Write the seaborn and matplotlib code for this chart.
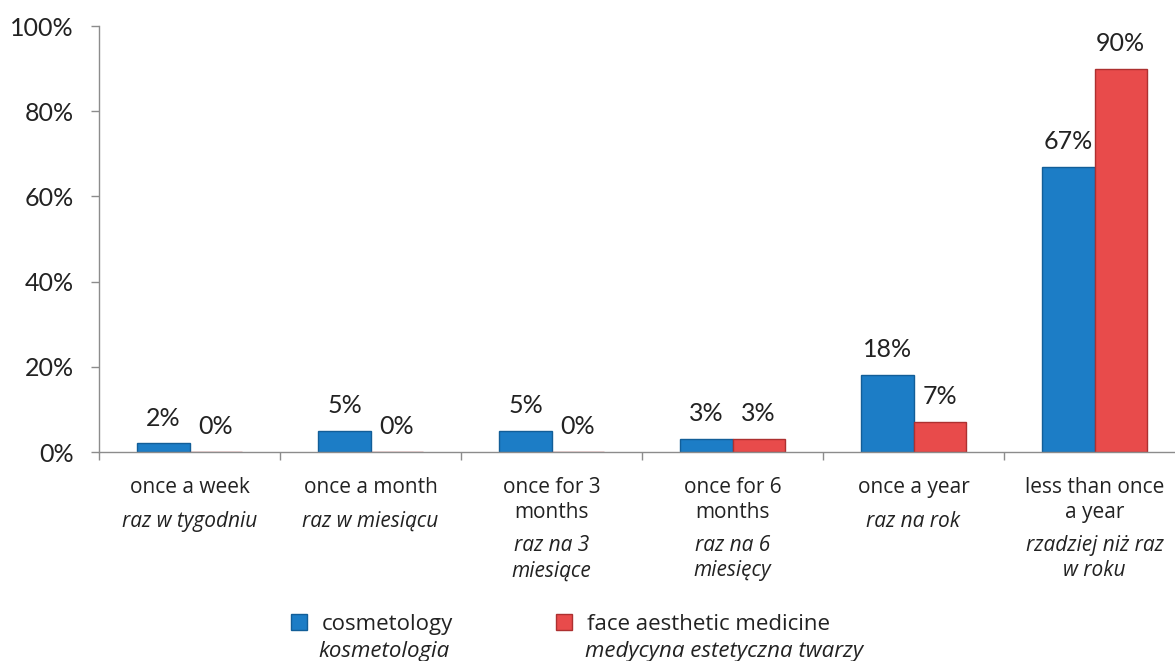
import matplotlib
matplotlib.use("Agg")
import matplotlib.pyplot as plt
import seaborn as sns
import pandas as pd
from matplotlib.patches import Patch

categories_en = ["once a week", "once a month", "once for 3\nmonths", "once for 6\nmonths",
                 "once a year", "less than once\na year"]
categories_pl = ["raz w tygodniu", "raz w miesiącu", "raz na 3\nmiesiące", "raz na 6\nmiesięcy",
                 "raz na rok", "rzadziej niż raz\nw roku"]
series_en = ["cosmetology", "face aesthetic medicine"]
series_pl = ["kosmetologia", "medycyna estetyczna twarzy"]
cosmetology = [2, 5, 5, 3, 18, 67]
face_medicine = [0, 0, 0, 3, 7, 90]
yticks = [0, 20, 40, 60, 80, 100]

colors = ["#1c7dc6", "#e84b4b"]
edges = ["#125e98", "#ad3030"]

sns.set_theme(style="white")
plt.rcParams["font.family"] = ["Lato", "DejaVu Sans"]
label_font = ["Open Sans", "DejaVu Sans"]

df = pd.DataFrame({
    "cat": list(range(len(categories_en))) * 2,
    "series": [series_en[0]] * len(cosmetology) + [series_en[1]] * len(face_medicine),
    "value": cosmetology + face_medicine,
})

fig = plt.figure(figsize=(11.75, 6.61), dpi=100)
ax = fig.add_axes([99 / 1175, 1 - 452 / 661, 1086 / 1175, 426 / 661])

sns.barplot(data=df, x="cat", y="value", hue="series", hue_order=series_en,
            palette=colors, width=0.575, saturation=1, ax=ax, legend=False,
            native_scale=True)

for cont, ec in zip(ax.containers, edges):
    for p in cont:
        p.set_edgecolor(ec)
        p.set_linewidth(1.0)
    ax.bar_label(cont, fmt="%d%%", padding=10, fontsize=18, color="#222222")

ax.set_xlim(-0.5, len(categories_en) - 0.5)
ax.set_ylim(0, 100)
ax.set_yticks(yticks)
ax.set_yticklabels([f"{v}%" for v in yticks], fontsize=18, color="#222222")
ax.set_xticks([i - 0.5 for i in range(len(categories_en) + 1)])
ax.set_xticklabels([])
ax.set_xlabel("")
ax.set_ylabel("")
ax.tick_params(axis="y", left=True, length=6, width=1, color="#8c8c8c", pad=12)
ax.tick_params(axis="x", bottom=True, length=6, width=1, color="#8c8c8c")
sns.despine(ax=ax, top=True, right=True)
for s in ["left", "bottom"]:
    ax.spines[s].set_color("#8c8c8c")
    ax.spines[s].set_linewidth(1)

for i, (en, pl) in enumerate(zip(categories_en, categories_pl)):
    nlines = en.count("\n") + 1
    ax.annotate(en, xy=(i, 0), xycoords=("data", "axes fraction"),
                xytext=(0, -25), textcoords="offset pixels", family=label_font,
                ha="center", va="top", fontsize=15, color="#222222", linespacing=1.28)
    ax.annotate(pl, xy=(i, 0), xycoords=("data", "axes fraction"),
                xytext=(0, -26 - 33 - (nlines - 1) * 24), textcoords="offset pixels",
                family=label_font, ha="center", va="top", fontsize=15, color="#222222",
                style="italic", linespacing=1.28)

handles = [Patch(facecolor=c, edgecolor=e) for c, e in zip(colors, edges)]
fig.legend(handles, series_en, loc="upper left", bbox_to_anchor=(280 / 1175, 1 - 603 / 661),
           ncol=2, frameon=False, prop={"family": label_font, "size": 16},
           handlelength=0.72, handleheight=0.72,
           handletextpad=0.68, columnspacing=4.6, borderpad=0, labelcolor="#222222")
fig.text(318 / 1175, 1 - 652 / 661, series_pl[0], fontsize=16, style="italic",
         family=label_font, va="center", ha="left", color="#222222")
fig.text(585 / 1175, 1 - 652 / 661, series_pl[1], fontsize=16, style="italic",
         family=label_font, va="center", ha="left", color="#222222")

fig.savefig("out.png", dpi=100, facecolor="white")
